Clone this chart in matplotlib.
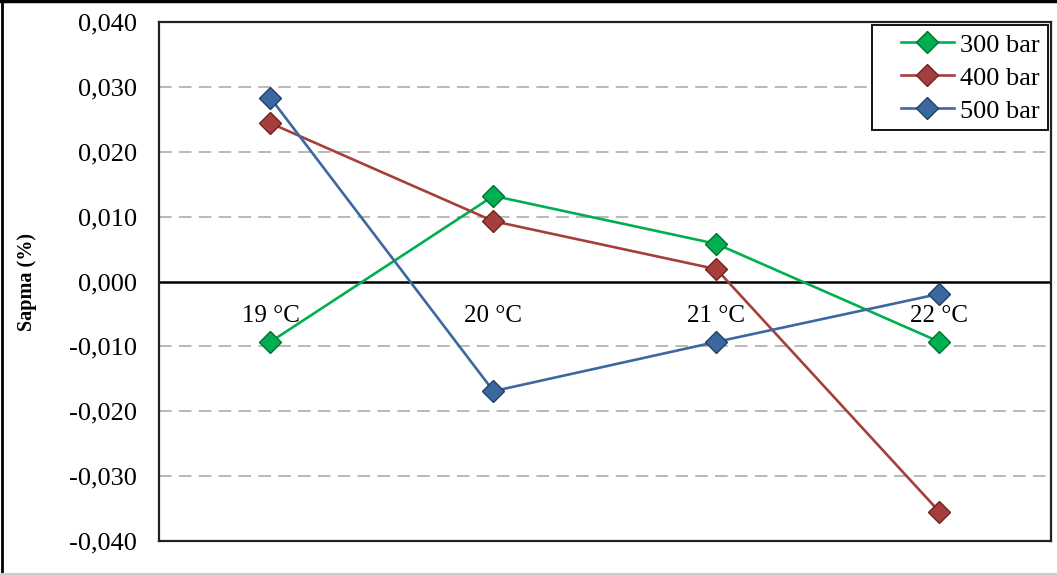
import numpy as np
import matplotlib
matplotlib.use("Agg")
import matplotlib.pyplot as plt
from matplotlib.lines import Line2D
from matplotlib.legend_handler import HandlerLine2D

plt.rcParams["font.family"] = ["Liberation Serif", "DejaVu Serif"]

# data
categories = ["19 °C", "20 °C", "21 °C", "22 °C"]
series_names = ["300 bar", "400 bar", "500 bar"]
bar300 = [-0.0093, 0.0132, 0.0058, -0.0093]
bar400 = [0.0244, 0.0093, 0.0019, -0.0355]
bar500 = [0.0283, -0.0169, -0.0093, -0.0019]
yticks = [-0.04, -0.03, -0.02, -0.01, 0.0, 0.01, 0.02, 0.03, 0.04]

colors = ["#00b050", "#a63f3b", "#3c68a0"]
edges = ["#00702f", "#6e2422", "#223f66"]

fig = plt.figure(figsize=(10.57, 5.75), dpi=100)
ax = fig.add_axes([0.1504, 0.0591, 0.8439, 0.9026])

x = np.arange(len(categories))
for vals, name, c, ec in zip([bar300, bar400, bar500], series_names, colors, edges):
    ax.plot(x, vals, color=c, lw=1.9, marker="D", markersize=11.5,
            markerfacecolor=c, markeredgecolor=ec, markeredgewidth=1.0,
            label=name, zorder=3)

ax.set_xlim(-0.5, len(categories) - 0.5)
ax.set_ylim(-0.04, 0.04)
ax.set_yticks(yticks)
ax.set_yticklabels([f"{v:.3f}".replace(".", ",") for v in yticks], fontsize=19)
ax.tick_params(axis="y", length=0, pad=16)
ax.set_xticks([])

for v in yticks:
    if v not in (0.0, 0.04, -0.04):
        ax.axhline(v, color="#b3b3b3", lw=1.3, ls=(0, (7, 4)), zorder=1)
ax.axhline(0, color="black", lw=1.8, zorder=2)

for i, lab in enumerate(categories):
    ax.annotate(lab, (x[i], 0), xytext=(0, -17), textcoords="offset points",
                ha="center", va="top", fontsize=18)

for s in ax.spines.values():
    s.set_linewidth(1.6)
    s.set_color("#222222")

ax.set_ylabel("Sapma (%)", fontsize=14.5, fontweight="bold")
ax.yaxis.set_label_coords(-0.137, 0.5)

leg = ax.legend(loc="upper right", bbox_to_anchor=(1.0, 1.0), borderaxespad=0.12,
                fontsize=19, fancybox=False, edgecolor="black", framealpha=1,
                handlelength=2.8, handletextpad=0.25, labelspacing=0.36,
                borderpad=0.3, handler_map={Line2D: HandlerLine2D(xpad=0.8)})
leg.get_frame().set_linewidth(1.3)

# outer chart border
fig.add_artist(Line2D([0, 1], [0.998, 0.998], transform=fig.transFigure, color="black", lw=2.5))
fig.add_artist(Line2D([0.002, 0.002], [0, 1], transform=fig.transFigure, color="black", lw=2.0))
fig.add_artist(Line2D([0, 1], [0.002, 0.002], transform=fig.transFigure, color="#cccccc", lw=1.5))

fig.savefig("out.png", dpi=100)
